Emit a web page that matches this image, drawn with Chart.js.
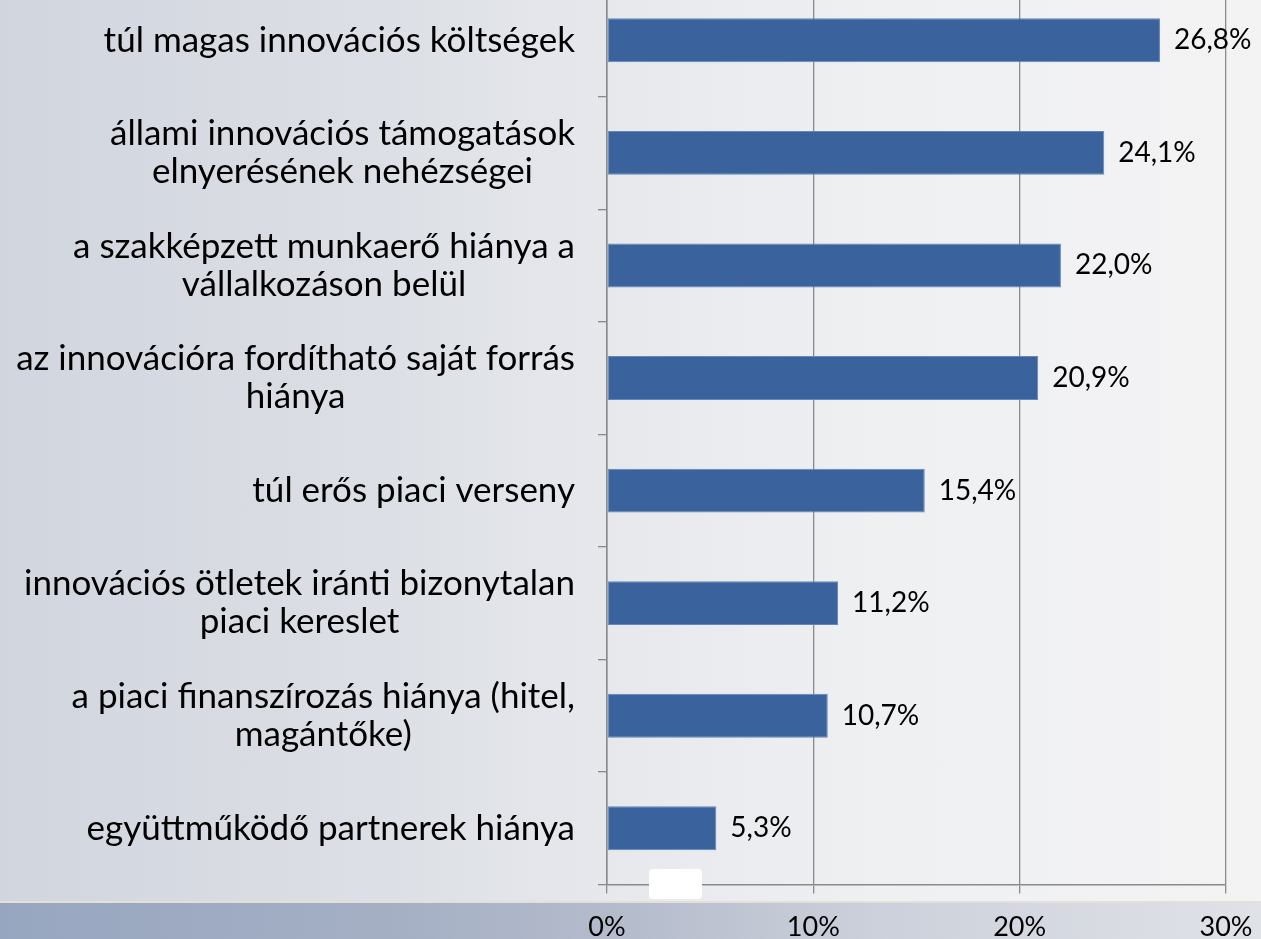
<!DOCTYPE html>
<html>
<head>
<meta charset="utf-8">
<script src="https://cdn.jsdelivr.net/npm/chart.js@4/dist/chart.umd.min.js"></script>
<style>
    html, body {
        margin: 0;
        padding: 0;
        width: 1261px;
        height: 939px;
        overflow: hidden;
    }
    body {
        position: relative;
        background: linear-gradient(to right, #d1d5de 0%, #dcdfe5 30%, #e7e9ed 50%, #eff0f2 70%, #f3f3f4 100%);
    }
    #band {
        position: absolute;
        left: 0;
        top: 901px;
        width: 1261px;
        height: 38px;
        border-top: 2px solid #e3e0d8;
        background: linear-gradient(to right, #97a6c0 0%, #a4afc4 30%, #b5bccc 50%, #cdd1db 70%, #dfe2e7 100%);
    }
    #chart-wrap {
        position: absolute;
        left: 0;
        top: -16px;
    }
    #marker {
        position: absolute;
        left: 649px;
        top: 869px;
        width: 53px;
        height: 30px;
        background: #ffffff;
        border-radius: 4px;
    }
</style>
</head>
<body>
<div id="band"></div>
<div id="chart-wrap"><canvas id="chart" width="1261" height="979"></canvas></div>
<div id="marker"></div>
<script>
const categories = [
    ["túl magas innovációs költségek"],
    ["állami innovációs támogatások", "elnyerésének nehézségei"],
    ["a szakképzett munkaerő hiánya a", "vállalkozáson belül"],
    ["az innovációra fordítható saját forrás", "hiánya"],
    ["túl erős piaci verseny"],
    ["innovációs ötletek iránti bizonytalan", "piaci kereslet"],
    ["a piaci finanszírozás hiánya (hitel,", "magántőke)"],
    ["együttműködő partnerek hiánya"]
];
const values = [26.8, 24.1, 22.0, 20.9, 15.4, 11.2, 10.7, 5.3];
const xTicks = [0, 10, 20, 30];

const FONT = "Lato, 'Open Sans', sans-serif";
const gridColor = "#8a8a8a";

// category labels: block right-aligned to the axis, lines centred inside the block
const categoryLabels = {
    id: "categoryLabels",
    afterDraw(chart) {
        const ctx = chart.ctx;
        const y = chart.scales.y;
        ctx.save();
        ctx.font = "35px " + FONT;
        ctx.fillStyle = "#000000";
        ctx.textAlign = "center";
        ctx.textBaseline = "middle";
        categories.forEach((lines, i) => {
            const cy = y.getPixelForValue(i);
            const w = Math.max(...lines.map(l => ctx.measureText(l).width));
            const cx = chart.chartArea.left - 32 - w / 2;
            lines.forEach((line, j) => {
                ctx.fillText(line, cx, cy + (j - (lines.length - 1) / 2) * 38);
            });
        });
        ctx.restore();
    }
};

// value labels to the right of each bar
const valueLabels = {
    id: "valueLabels",
    afterDatasetsDraw(chart) {
        const ctx = chart.ctx;
        ctx.save();
        ctx.font = "28px " + FONT;
        ctx.fillStyle = "#000000";
        ctx.textAlign = "left";
        ctx.textBaseline = "middle";
        chart.getDatasetMeta(0).data.forEach((bar, i) => {
            ctx.fillText(values[i].toFixed(1).replace(".", ",") + "%", bar.x + 14, bar.y);
        });
        ctx.restore();
    }
};

new Chart(document.getElementById("chart"), {
    type: "bar",
    data: {
        labels: categories,
        datasets: [{
            data: values,
            backgroundColor: "#3a639e",
            borderColor: "#6387b9",
            borderWidth: 1,
            borderSkipped: false,
            categoryPercentage: 1,
            barPercentage: 0.39
        }]
    },
    options: {
        indexAxis: "y",
        responsive: false,
        animation: false,
        devicePixelRatio: 1,
        layout: { padding: { top: 0, right: 35, bottom: 3, left: 0 } },
        plugins: {
            legend: { display: false },
            tooltip: { enabled: false }
        },
        scales: {
            x: {
                min: 0,
                max: 30,
                afterBuildTicks: scale => {
                    scale.ticks = xTicks.map(v => ({ value: v }));
                },
                afterFit: scale => {
                    // don't let the last tick label push the plot area in
                    scale.paddingLeft = 0;
                    scale.paddingRight = 0;
                },
                grid: {
                    color: gridColor,
                    lineWidth: 1.3,
                    tickLength: 9,
                    drawTicks: true
                },
                border: { color: gridColor, width: 1.5 },
                ticks: {
                    color: "#000000",
                    font: { family: FONT, size: 27 },
                    padding: 17,
                    callback: v => v + "%"
                }
            },
            y: {
                offset: true,
                afterFit: scale => { scale.width = 607; },
                grid: {
                    offset: true,
                    drawOnChartArea: false,
                    color: gridColor,
                    lineWidth: 1.3,
                    tickLength: 9
                },
                border: { color: gridColor, width: 1.5 },
                ticks: { display: false }
            }
        }
    },
    plugins: [categoryLabels, valueLabels]
});
</script>
</body>
</html>
